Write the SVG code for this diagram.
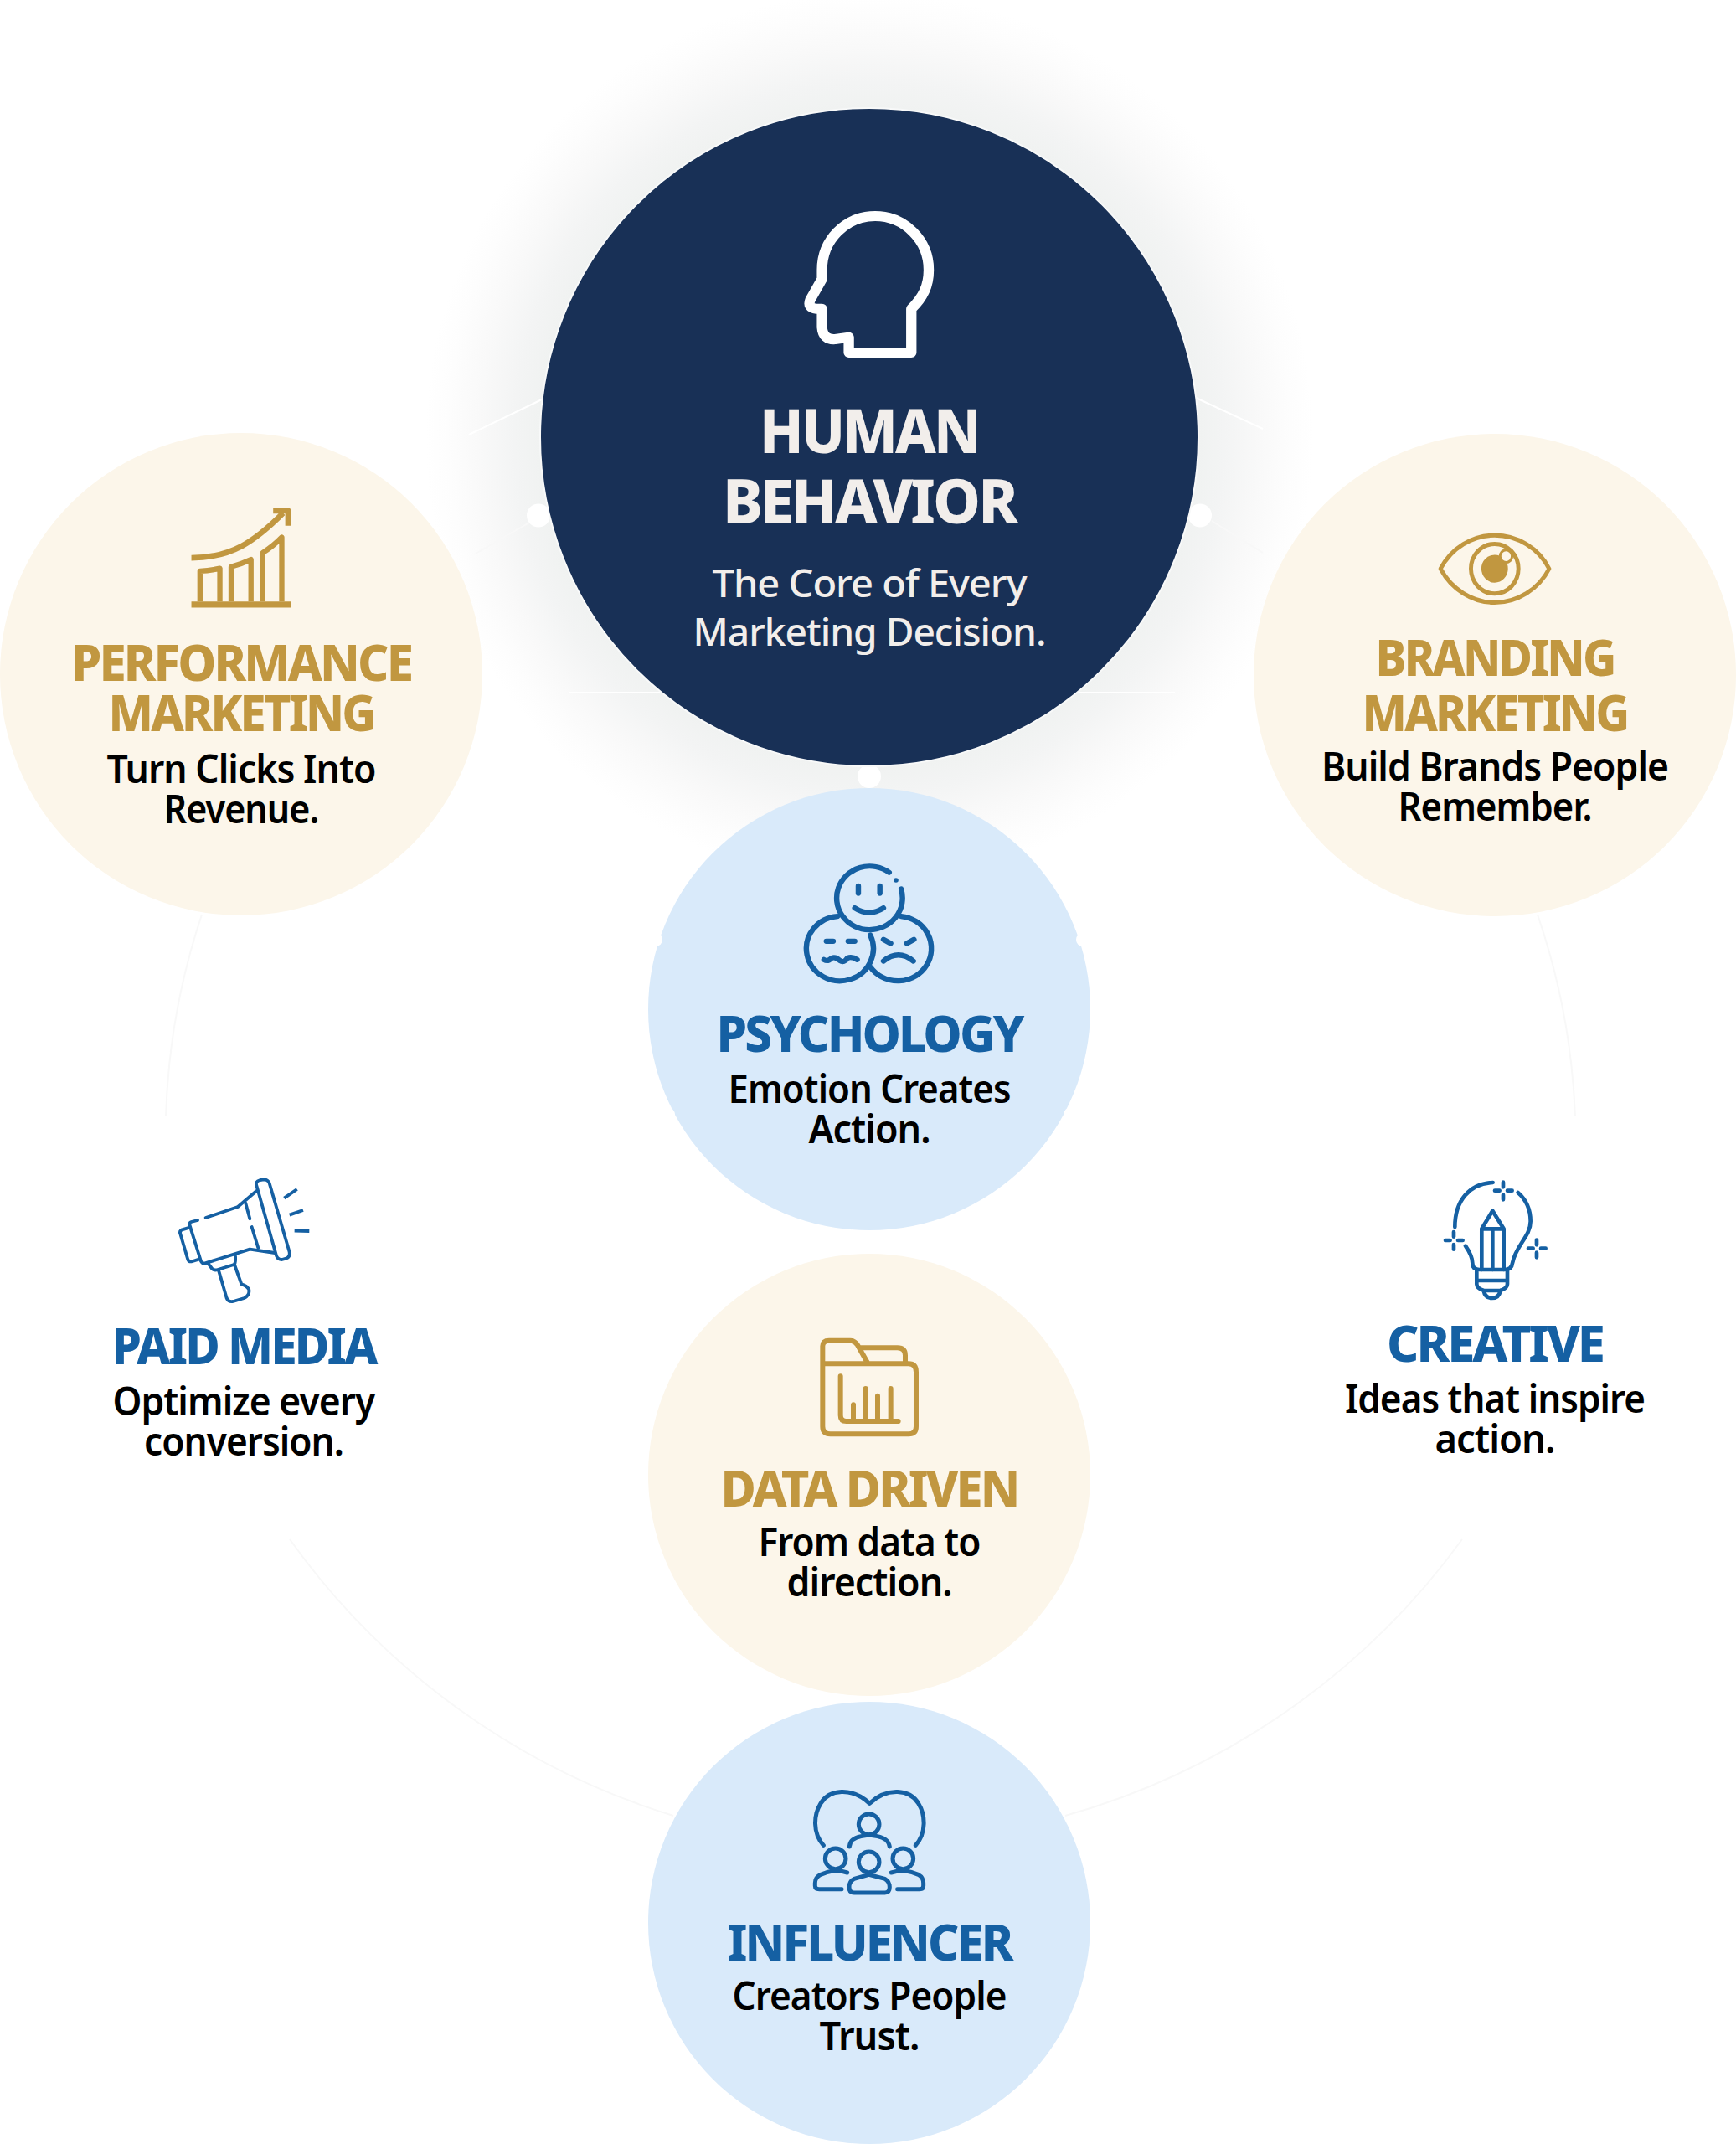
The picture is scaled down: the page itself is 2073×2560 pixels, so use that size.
<svg xmlns="http://www.w3.org/2000/svg" width="2073" height="2560" viewBox="0 0 2073 2560">
<defs>
<radialGradient id="glow" cx="1038" cy="522" r="530" gradientUnits="userSpaceOnUse">
<stop offset="0.74" stop-color="#f0f2f1"/>
<stop offset="0.80" stop-color="#f3f4f4"/>
<stop offset="0.88" stop-color="#f9f9f9"/>
<stop offset="0.95" stop-color="#fdfdfd"/>
<stop offset="1" stop-color="#ffffff"/>
</radialGradient>
</defs>
<style>
text{font-family:"Noto Sans","Open Sans","Liberation Sans",sans-serif;text-anchor:middle}
.t{font-size:60px;font-weight:800;letter-spacing:-3px}
.s{font-size:46px;font-weight:600;fill:#000;letter-spacing:-1px}
.h{font-size:73px;font-weight:800;fill:#f2eeeb;letter-spacing:-3px}
.h2{font-size:46px;font-weight:500;fill:#f2eeeb;letter-spacing:-1px}
.gold{fill:#c19740}
.blue{fill:#1560a3}
.cream{fill:#fcf6ea}
.sky{fill:#d9eafa}
.i{fill:none;stroke-linecap:round;stroke-linejoin:round}
.ig{stroke:#c19740}
.ib{stroke:#1560a3}
.ln{fill:none;stroke:#f8f8f8;stroke-width:2}
.lw{fill:none;stroke:#fff;stroke-width:2}
</style>
<rect width="2073" height="2560" fill="#fff"/>
<circle cx="1038" cy="522" r="530" fill="url(#glow)"/>
<g id="connectors">
<path class="ln" d="M198 1333A843 843 0 0 1 241 1092"/>
<path class="ln" d="M1881 1333A843 843 0 0 0 1836 1092"/>
<path class="ln" d="M346 1838A880 880 0 0 0 804 2168"/>
<path class="ln" d="M1746 1838A880 880 0 0 1 1272 2168"/>
<path class="lw" d="M560 519L647 477"/><path class="lw" d="M1428 475L1508 512"/>
<path class="ln" d="M568 661L632 624"/><path class="ln" d="M1447 622L1508 660"/>
<path class="lw" d="M680 827H790"/><path class="lw" d="M1287 827H1403"/>
<circle cx="643" cy="615.500" r="14" fill="#fff"/><circle cx="1433" cy="615.500" r="14" fill="#fff"/><circle cx="1038" cy="927" r="14" fill="#fff"/>
</g>
<g id="node-performance">
<circle class="cream" cx="288" cy="805" r="288"/>
<g class="i ig" transform="matrix(.3954 0 0 .3954 0 500)">
<path stroke-width="17" stroke-linecap="butt" d="M578 420C700 420 770 370 855 285M825 278H870V323"/>
<path stroke-width="18" stroke-linecap="butt" d="M578 561H878"/>
<path stroke-width="16" stroke-linecap="butt" d="M604 552V460Q635 458 664 452V552M698 552V447Q730 438 758 425V552M793 552V405Q825 385 851 358V552"/>
</g>
<text class="t gold" x="288" y="813" textLength="406" lengthAdjust="spacingAndGlyphs">PERFORMANCE</text>
<text class="t gold" x="288" y="873" textLength="317" lengthAdjust="spacingAndGlyphs">MARKETING</text>
<text class="s" x="288" y="935" textLength="321" lengthAdjust="spacingAndGlyphs">Turn Clicks Into</text>
<text class="s" x="288" y="983" textLength="185" lengthAdjust="spacingAndGlyphs">Revenue.</text>
</g>
<g id="node-branding">
<circle class="cream" cx="1785" cy="806" r="288"/>
<g class="i ig" transform="matrix(.3782 0 0 .3954 1480 500)" stroke-width="13">
<path d="M635 453C670 390 735 352 806 352C877 352 945 390 978 453C945 515 877 555 806 555C735 555 670 515 635 453Z"/>
<circle cx="806" cy="453" r="75"/>
<circle cx="806" cy="453" r="42" fill="#c19740" stroke="none"/>
<circle cx="842" cy="415" r="19" fill="#fcf6ea" stroke-width="8"/>
</g>
<text class="t gold" x="1785" y="807" textLength="285" lengthAdjust="spacingAndGlyphs">BRANDING</text>
<text class="t gold" x="1785" y="873" textLength="317" lengthAdjust="spacingAndGlyphs">MARKETING</text>
<text class="s" x="1785" y="932" textLength="414" lengthAdjust="spacingAndGlyphs">Build Brands People</text>
<text class="s" x="1785" y="980" textLength="231" lengthAdjust="spacingAndGlyphs">Remember.</text>
</g>
<g id="node-human-behavior">
<circle cx="1038" cy="522" r="393" fill="#183056" stroke="#f8f9f9" stroke-width="2"/>
<path class="i" stroke="#fff" stroke-width="22" transform="matrix(.5612 0 0 .5486 600 100)" d="M870 585V490C895 465 907 440 907 405C907 340 855 288 793 288C730 288 680 340 680 405V425L655 470Q648 488 668 490H680V530Q682 558 708 556L737 552V585Z"/>
<text class="h" x="1038" y="541" textLength="262" lengthAdjust="spacingAndGlyphs">HUMAN</text>
<text class="h" x="1038" y="625" textLength="350" lengthAdjust="spacingAndGlyphs">BEHAVIOR</text>
<text class="h2" x="1038" y="713" textLength="375" lengthAdjust="spacingAndGlyphs">The Core of Every</text>
<text class="h2" x="1038" y="771" textLength="421" lengthAdjust="spacingAndGlyphs">Marketing Decision.</text>
</g>
<g id="node-psychology">
<circle class="sky" cx="1038" cy="1205" r="264"/>
<circle cx="783" cy="1122" r="8" fill="#fff"/><circle cx="1293" cy="1122" r="8" fill="#fff"/><circle cx="797" cy="1331" r="9" fill="#fff"/><circle cx="1279" cy="1331" r="9" fill="#fff"/>
<g class="i ib" stroke-width="18" transform="matrix(.3571 0 0 .3448 760 940)">
<path d="M845 295A110 110 0 1 0 885 352"/>
<path d="M672 447A112 112 0 1 0 782 512"/>
<path d="M885 447A112 112 0 1 1 782 622"/>
<circle cx="868" cy="322" r="8" fill="#1560a3" stroke="none"/>
<path d="M742 342V367M814 342V367M730 418Q778 450 826 418M635 533H658M708 533H730M627 597Q640 605 652 592Q665 585 680 600Q695 610 705 592Q720 585 738 597M826 527L850 541M928 527L904 541M826 602Q876 560 926 602"/>
</g>
<text class="t blue" x="1038" y="1256" textLength="365" lengthAdjust="spacingAndGlyphs">PSYCHOLOGY</text>
<text class="s" x="1038" y="1317" textLength="337" lengthAdjust="spacingAndGlyphs">Emotion Creates</text>
<text class="s" x="1038" y="1365" textLength="145" lengthAdjust="spacingAndGlyphs">Action.</text>
</g>
<g id="node-paid-media">
<g class="i ib" stroke-width="11.500" transform="matrix(.3333 0 0 .3333 180 1380)">
<path d="M380 110Q372 92 392 87L405 85Q420 85 425 98L497 345Q500 362 485 368L470 372Q455 372 450 358Z"/>
<path d="M378 127L312 183L197 222M168 231L145 237Q136 240 140 250L180 378Q185 388 195 385L355 335L445 348"/>
<path d="M140 257L112 265Q102 270 106 280L133 372Q137 382 150 378L175 370"/>
<path d="M340 170L355 226M362 255L385 330"/>
<path d="M205 385L220 405Q228 412 240 408L298 390Q305 385 303 360M243 410L272 510Q278 525 295 522L335 510Q355 500 352 480Q345 465 325 460L300 390"/>
<path stroke-linecap="butt" d="M478 152L524 120M497 212L546 195M515 269L568 270"/>
</g>
<text class="t blue" x="291" y="1629" textLength="315" lengthAdjust="spacingAndGlyphs">PAID MEDIA</text>
<text class="s" x="291" y="1690" textLength="313" lengthAdjust="spacingAndGlyphs">Optimize every</text>
<text class="s" x="291" y="1738" textLength="238" lengthAdjust="spacingAndGlyphs">conversion.</text>
</g>
<g id="node-creative">
<g class="i ib" stroke-width="14" transform="matrix(.3333 0 0 .3333 1680 1380)">
<path d="M308 96C225 100 172 160 172 255M398 132C430 160 443 195 443 235C443 290 390 320 378 385Q376 408 350 408H260Q235 408 235 385C235 365 225 345 210 323"/>
<path d="M345 95V112M345 140V157M315 125H332M360 125H377M168 273V290M168 318V335M138 303H155M183 303H200M465 302V319M465 347V364M435 332H452M480 332H497"/>
<path d="M268 408V262L307 197L347 262V408M268 262H347M307 262V408"/>
<path d="M250 408V460Q250 475 275 483H335Q360 475 360 460V408M250 447H360M275 483Q280 510 305 510Q330 510 335 483"/>
</g>
<text class="t blue" x="1785" y="1626" textLength="258" lengthAdjust="spacingAndGlyphs">CREATIVE</text>
<text class="s" x="1785" y="1687" textLength="358" lengthAdjust="spacingAndGlyphs">Ideas that inspire</text>
<text class="s" x="1785" y="1735" textLength="143" lengthAdjust="spacingAndGlyphs">action.</text>
</g>
<g id="node-data-driven">
<circle class="cream" cx="1038" cy="1761" r="264"/>
<g class="i ig" stroke-width="18" transform="matrix(.3333 0 0 .3333 930 1570)">
<path d="M157 172V112Q157 92 180 92H255Q272 92 282 108L318 172M295 118H425Q453 118 453 145V172M157 175H465Q492 175 492 205V400Q492 427 465 427H185Q157 427 157 400V172"/>
<path d="M221 220V360Q221 381 242 381H428M267 322V378M311 264V378M354 290V378M401 264V378"/>
</g>
<text class="t gold" x="1038" y="1799" textLength="355" lengthAdjust="spacingAndGlyphs">DATA DRIVEN</text>
<text class="s" x="1038" y="1858" textLength="265" lengthAdjust="spacingAndGlyphs">From data to</text>
<text class="s" x="1038" y="1906" textLength="197" lengthAdjust="spacingAndGlyphs">direction.</text>
</g>
<g id="node-influencer">
<circle class="sky" cx="1038" cy="2296" r="264"/>
<g class="i ib" stroke-width="15" transform="matrix(.3333 0 0 .3333 930 2110)">
<path d="M160 280C120 235 125 170 150 130C180 80 260 70 325 130C390 70 470 80 500 130C525 170 530 235 490 280"/>
<circle cx="323" cy="205" r="37"/><circle cx="203" cy="328" r="37"/><circle cx="445" cy="328" r="37"/><circle cx="323" cy="340" r="37"/>
<path d="M253 285Q255 255 295 248L323 243L353 248Q392 255 397 285"/>
<path d="M245 378Q225 372 203 370Q175 375 150 385Q130 395 130 415V425Q130 437 145 437H225"/>
<path d="M403 378Q425 372 445 370Q475 375 500 385Q518 395 518 415V425Q518 437 505 437H425"/>
<path d="M252 430Q252 410 270 400L323 385L380 400Q397 410 397 430Q397 450 380 450H270Q252 450 252 430Z"/>
</g>
<text class="t blue" x="1038" y="2341" textLength="339" lengthAdjust="spacingAndGlyphs">INFLUENCER</text>
<text class="s" x="1038" y="2400" textLength="327" lengthAdjust="spacingAndGlyphs">Creators People</text>
<text class="s" x="1038" y="2448" textLength="119" lengthAdjust="spacingAndGlyphs">Trust.</text>
</g>
</svg>
